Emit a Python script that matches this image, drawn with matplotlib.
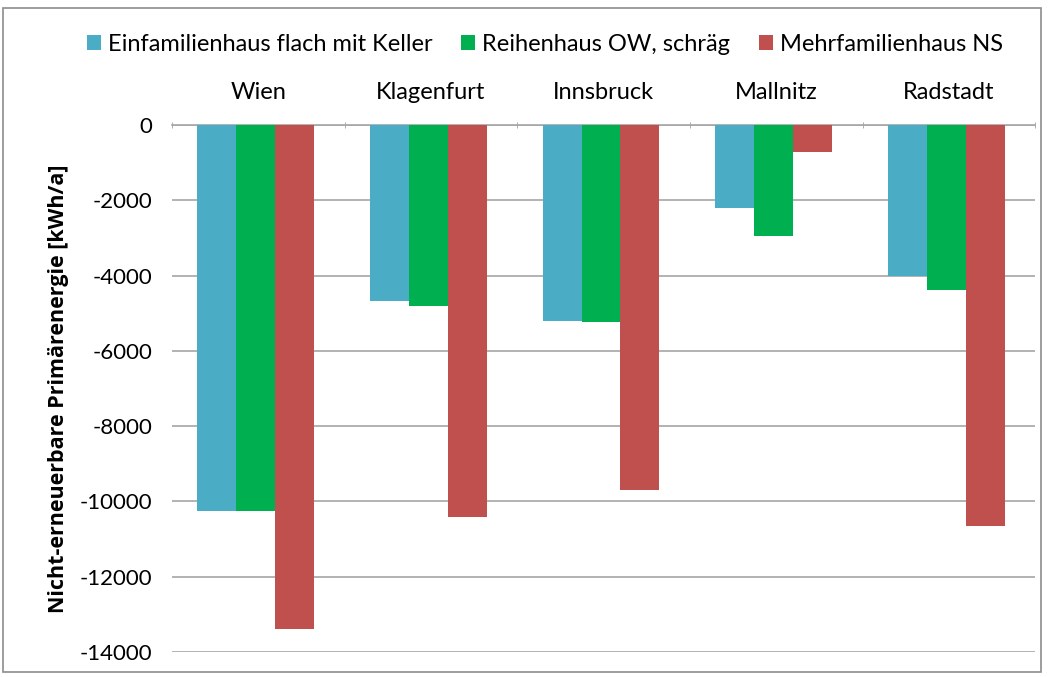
import numpy as np
import matplotlib
matplotlib.use("Agg")
import matplotlib.pyplot as plt
from matplotlib.patches import Rectangle

plt.rcParams['font.family'] = ['Lato', 'DejaVu Sans']
plt.rcParams['axes.unicode_minus'] = False

staedte = ['Wien', 'Klagenfurt', 'Innsbruck', 'Mallnitz', 'Radstadt']
serien = ['Einfamilienhaus flach mit Keller', 'Reihenhaus OW, schräg', 'Mehrfamilienhaus NS']
efh = [-10250, -4680, -5200, -2200, -4000]
rh = [-10250, -4800, -5240, -2950, -4380]
mfh = [-13400, -10400, -9700, -700, -10650]
farben = ['#4BACC6', '#00B050', '#C0504D']

fig = plt.figure(figsize=(10.48, 6.77), dpi=100)
ax = fig.add_axes([0.164, 0.037, 0.824, 0.778])

x = np.arange(len(staedte))
w = 0.225
for i, (werte, name) in enumerate(zip([efh, rh, mfh], serien)):
    ax.bar(x + (i - 1) * w - 0.015, werte, w, color=farben[i], label=name, zorder=3)

ax.set_xlim(-0.5, len(staedte) - 0.5)
ax.set_ylim(-14000, 0)
ax.set_yticks(np.arange(-14000, 1, 2000))
ax.tick_params(axis='y', labelsize=16, length=0, pad=14)
ax.xaxis.tick_top()
ax.set_xticks(x)
ax.set_xticklabels(staedte, fontsize=17)
ax.tick_params(axis='x', length=0, pad=16)
ax.set_xticks(np.arange(-0.5, len(staedte)), minor=True)
ax.tick_params(axis='x', which='minor', length=5, color='#a0a0a0', direction='inout', top=True)
ax.grid(axis='y', color='#a6a6a6', linewidth=1.2, zorder=0)
for s in ['left', 'right', 'bottom']:
    ax.spines[s].set_visible(False)
ax.spines['top'].set_color('#a6a6a6')
ax.spines['top'].set_linewidth(1.2)

ax.set_ylabel('Nicht-erneuerbare Primärenergie [kWh/a]', fontsize=15.5, fontweight='bold',
              family=['Open Sans', 'DejaVu Sans'], labelpad=8)

fig.legend(loc='center', bbox_to_anchor=(0.52, 0.935), ncol=3, frameon=False, fontsize=17,
           handlelength=0.6, handleheight=0.6, handletextpad=0.3, columnspacing=1.2)

fig.patches.append(Rectangle((0.003, 0.008), 0.99, 0.98, transform=fig.transFigure,
                             fill=False, edgecolor='#8c8c8c', linewidth=1.2))

fig.savefig('out.png', dpi=100)
